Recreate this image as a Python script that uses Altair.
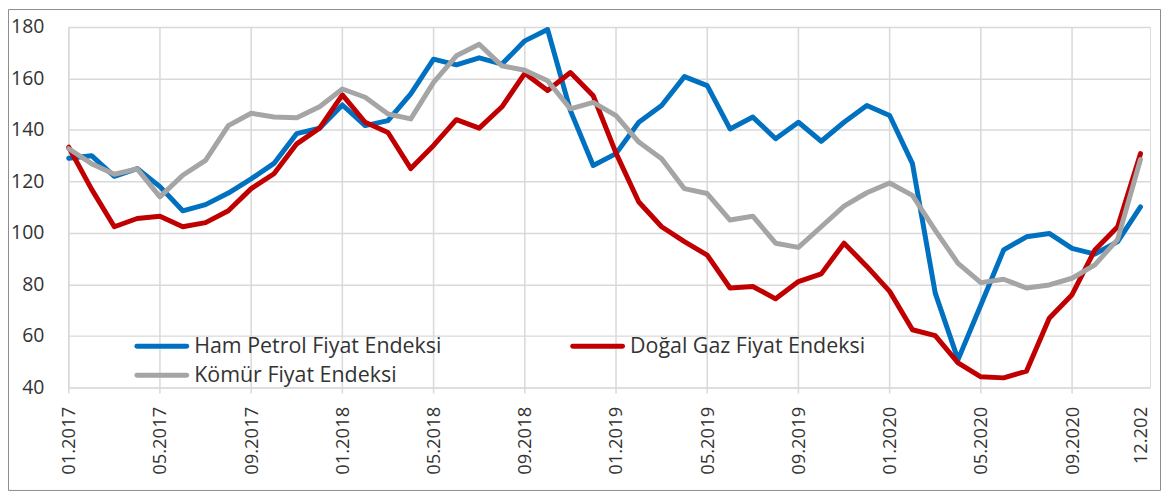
import altair as alt
import pandas as pd

series_names = ["Ham Petrol Fiyat Endeksi", "Doğal Gaz Fiyat Endeksi", "Kömür Fiyat Endeksi"]
series_colors = ["#0070C0", "#C00000", "#A5A5A5"]

ham = [129, 130, 122, 125, 118, 108.6, 111, 115.5, 121, 127, 138.6, 140.7,
       149.7, 141.7, 143.6, 154, 167.5, 165.3, 168, 165.6, 174.6, 179, 147.5, 126.2,
       130.8, 143, 149.5, 160.7, 157.2, 140.4, 145, 136.6, 143, 135.6, 143, 149.5,
       145.6, 126.9, 76.6, 50.8, 72, 93.4, 98.5, 99.8, 94, 91.8, 96.6, 110.1]
dogal = [133.3, 117, 102.4, 105.6, 106.5, 102.4, 104, 108.6, 117.2, 123, 134.6, 140.7,
         153.6, 143, 139, 125, 134, 144, 140.7, 149, 162, 155.3, 162.3, 153.3,
         131, 112, 102.4, 96.6, 91.4, 78.6, 79.2, 74.4, 81.1, 84.1, 96, 87,
         77.3, 62.4, 60.1, 49.5, 44.1, 43.7, 46.3, 66.9, 76, 93.4, 102.4, 130.8]
komur = [132.7, 126.9, 122.8, 124.9, 114, 122.4, 128.2, 141.7, 146.5, 145, 144.7, 149,
         155.9, 152.7, 146.2, 144.3, 158.5, 168.8, 173.3, 164.9, 163.2, 159.1, 148.2, 150.7,
         145.6, 135.3, 128.8, 117.2, 115.3, 105, 106.5, 96, 94.4, 102.4, 110.4, 115.6,
         119.4, 114.6, 101, 88.2, 80.7, 82, 78.6, 79.8, 82.4, 87.6, 97.5, 128.5]

tick_idx = [0, 4, 8, 12, 16, 20, 24, 28, 32, 36, 40, 44, 47]
tick_labels = ["01.2017", "05.2017", "09.2017", "01.2018", "05.2018", "09.2018",
               "01.2019", "05.2019", "09.2019", "01.2020", "05.2020", "09.2020", "12.202"]
grid_idx = tick_idx[:-1]
y_ticks = [40, 60, 80, 100, 120, 140, 160, 180]

rows = []
for name, vals in zip(series_names, [ham, dogal, komur]):
    for i, v in enumerate(vals):
        rows.append({"idx": i, "value": v, "series": name})
df = pd.DataFrame(rows)

W, H = 1086, 362
XMAX = 47.42
FONT = "Open Sans"
TXT = "#333333"
GRID = "#d9d9d9"

expr = "''"
for v, l in reversed(list(zip(tick_idx, tick_labels))):
    expr = f"datum.value == {v} ? '{l}' : ({expr})"

x_scale = alt.Scale(domain=[0, XMAX], nice=False, zero=False)
y_scale = alt.Scale(domain=[40, 180], nice=False, zero=False)

x_axis = alt.Axis(values=tick_idx, labelExpr=expr, labelAngle=270, labelAlign="right",
                  labelBaseline="middle", labelPadding=19, ticks=False, domain=False,
                  grid=False, title=None, labelFontSize=18.5, labelFont=FONT,
                  labelColor=TXT, labelOverlap=False)
y_axis = alt.Axis(values=y_ticks, ticks=False, domain=False, grid=True, gridColor=GRID,
                  gridWidth=1.5, title=None, labelFontSize=19.5, labelFont=FONT,
                  labelColor=TXT, labelPadding=25)

grid = alt.Chart(pd.DataFrame({"g": grid_idx})).mark_rule(
    color=GRID, strokeWidth=1.5, clip=False
).encode(
    x=alt.X("g:Q", scale=x_scale, axis=x_axis),
    y=alt.value(0),
    y2=alt.value(H + 6),
)

color = alt.Color(
    "series:N",
    scale=alt.Scale(domain=series_names, range=series_colors),
    legend=None,
)

lines = []
for name in series_names:
    lines.append(
        alt.Chart(df).transform_filter(alt.datum.series == name).mark_line(
            strokeWidth=5, strokeJoin="round", strokeCap="round", clip=False
        ).encode(
            x=alt.X("idx:Q", scale=x_scale, axis=x_axis),
            y=alt.Y("value:Q", scale=y_scale, axis=y_axis),
            color=color,
        )
    )

# manual legend (inside plot, bottom-left), positions in pixels
one = pd.DataFrame({"a": [0]})
legend_pos = [(68.5, 320.7), (506.2, 320.7), (68.5, 349.7)]
legend_layers = []
for name, col, (lx, ly) in zip(series_names, series_colors, legend_pos):
    legend_layers.append(
        alt.Chart(one).mark_rule(strokeWidth=5, strokeCap="round", clip=False).encode(
            x=alt.value(lx), x2=alt.value(lx + 50), y=alt.value(ly), color=alt.value(col)
        )
    )
    legend_layers.append(
        alt.Chart(one).mark_text(
            align="left", baseline="middle", font=FONT, fontSize=21.5, color=TXT, clip=False
        ).encode(x=alt.value(lx + 57.5), y=alt.value(ly + 1), text=alt.value(name))
    )

border = alt.Chart(one).mark_rect(
    fillOpacity=0, stroke="#8c8c8c", strokeWidth=1, clip=False
).encode(
    x=alt.value(-60.5), x2=alt.value(W + 10.5),
    y=alt.value(-17.5), y2=alt.value(H + 103.5),
)

chart = alt.layer(border, grid, *lines, *legend_layers).properties(
    width=W, height=H,
    autosize=alt.AutoSizeParams(type="none"),
    padding={"left": 61, "top": 18, "right": 11, "bottom": 104},
).configure_view(stroke=GRID, strokeWidth=1.5).configure(background="white")

chart.save("out.html", embed_options={"renderer": "svg", "actions": False})
